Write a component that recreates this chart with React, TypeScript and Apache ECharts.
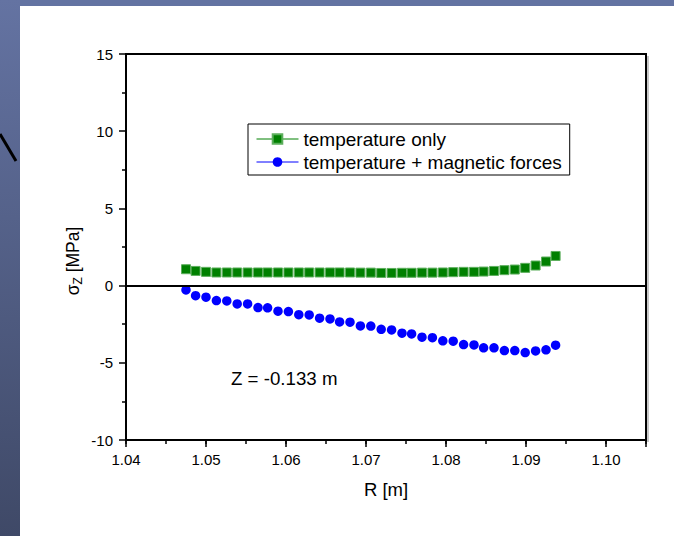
import React, { useEffect, useRef } from "react";
import * as echarts from "echarts";

const FONT = "'Liberation Sans', Arial, Helvetica, sans-serif";

const rValues = [
  1.0475, 1.0487, 1.05, 1.0513, 1.0526, 1.0539, 1.0552, 1.0565, 1.0577, 1.059,
  1.0603, 1.0616, 1.0629, 1.0642, 1.0655, 1.0667, 1.068, 1.0693, 1.0706, 1.0719,
  1.0732, 1.0745, 1.0757, 1.077, 1.0783, 1.0796, 1.0809, 1.0822, 1.0835, 1.0847,
  1.086, 1.0873, 1.0886, 1.0899, 1.0912, 1.0925, 1.0937,
];

const tempOnly = [
  1.06, 0.95, 0.89, 0.85, 0.85, 0.85, 0.85, 0.85, 0.85, 0.85, 0.85, 0.85, 0.85,
  0.85, 0.85, 0.85, 0.85, 0.84, 0.84, 0.82, 0.82, 0.83, 0.83, 0.84, 0.84, 0.85,
  0.87, 0.89, 0.89, 0.91, 0.95, 1.0, 1.04, 1.15, 1.3, 1.56, 1.92,
];

const tempMagnetic = [
  -0.28, -0.65, -0.75, -0.97, -0.99, -1.19, -1.19, -1.42, -1.44, -1.66, -1.68,
  -1.88, -1.9, -2.11, -2.16, -2.35, -2.37, -2.61, -2.62, -2.83, -2.87, -3.08,
  -3.13, -3.34, -3.37, -3.58, -3.6, -3.82, -3.84, -4.03, -4.03, -4.21, -4.21,
  -4.34, -4.23, -4.16, -3.86,
];

const seriesNames = ["temperature only", "temperature + magnetic forces"];
const annotation = "Z = -0.133 m";
const xTitle = "R [m]";

export default function App() {
  const ref = useRef<HTMLDivElement>(null);

  useEffect(() => {
    if (!ref.current) return;
    const chart = echarts.init(ref.current, null, { renderer: "svg" });

    const pairs = (ys: number[]) => rValues.map((r, i) => [r, ys[i]]);

    chart.setOption({
      animation: false,
      backgroundColor: "#ffffff",
      textStyle: { fontFamily: FONT },
      grid: {
        left: 126,
        top: 54,
        width: 520,
        height: 386,
        show: true,
        borderColor: "#000",
        borderWidth: 2,
        backgroundColor: "transparent",
      },
      legend: {
        left: 248,
        top: 124,
        orient: "vertical",
        backgroundColor: "#fff",
        borderColor: "#000",
        borderWidth: 1,
        padding: [5, 8, 3, 8],
        itemGap: 3,
        itemWidth: 42,
        itemHeight: 12,
        textStyle: { fontSize: 19, fontFamily: FONT, color: "#000", lineHeight: 20 },
        lineStyle: { opacity: 1, width: 1 },
        data: seriesNames,
      },
      xAxis: [
        {
          type: "value",
          min: 1.04,
          max: 1.105,
          interval: 0.005,
          axisLine: { show: true, onZero: false, lineStyle: { color: "#000", width: 2 } },
          axisTick: { show: true, inside: false, length: 4, lineStyle: { color: "#000", width: 1.5 } },
          axisLabel: { show: false },
          splitLine: { show: false },
        },
        {
          type: "value",
          position: "bottom",
          min: 1.04,
          max: 1.105,
          interval: 0.01,
          axisLine: { show: false, onZero: false },
          axisTick: { show: true, inside: false, length: 7, lineStyle: { color: "#000", width: 1.5 } },
          axisLabel: {
            show: true,
            margin: 12,
            fontSize: 15,
            color: "#000",
            fontFamily: FONT,
            formatter: (v: number) =>
              Math.round(v * 1000) % 10 === 0 ? v.toFixed(2) : "",
          },
          splitLine: { show: false },
          name: xTitle,
          nameLocation: "middle",
          nameGap: 40,
          nameTextStyle: { fontSize: 18.5, color: "#000", fontFamily: FONT },
        },
      ],
      yAxis: {
        type: "value",
        min: -10,
        max: 15,
        interval: 5,
        axisLine: { show: true, onZero: false, lineStyle: { color: "#000", width: 2 } },
        axisTick: { show: true, inside: false, length: 7, lineStyle: { color: "#000", width: 1.5 } },
        minorTick: { show: true, splitNumber: 2, length: 4, lineStyle: { color: "#000", width: 1.5 } },
        axisLabel: { margin: 13, fontSize: 15, color: "#000", fontFamily: FONT },
        splitLine: { show: false },
      },
      graphic: [
        {
          type: "rect",
          silent: true,
          z: -10,
          shape: { x: 0, y: 0, width: 674, height: 6 },
          style: { fill: "#6373a2" },
        },
        {
          type: "rect",
          silent: true,
          z: -10,
          shape: { x: 0, y: 0, width: 20, height: 536 },
          style: {
            fill: new echarts.graphic.LinearGradient(0, 0, 0, 1, [
              { offset: 0, color: "#6473a2" },
              { offset: 1, color: "#3f4967" },
            ]),
          },
        },
        {
          type: "line",
          silent: true,
          shape: { x1: 0, y1: 134, x2: 16, y2: 161 },
          style: { stroke: "#000", lineWidth: 3 },
        },
        {
          type: "rect",
          silent: true,
          shape: { x: 647, y: 56, width: 2, height: 386 },
          style: { fill: "#c8c8c8" },
        },
        {
          type: "text",
          x: 73,
          y: 261,
          rotation: Math.PI / 2,
          style: {
            text: "{a|σ}{b|Z}{a| [MPa]}",
            align: "center",
            verticalAlign: "middle",
            fill: "#000",
            rich: {
              a: { fontSize: 17.5, fontFamily: FONT, lineHeight: 22, fill: "#000" },
              b: { fontSize: 12, fontFamily: FONT, lineHeight: 12, verticalAlign: "bottom", fill: "#000" },
            },
          },
        },
        {
          type: "text",
          x: 231,
          y: 378,
          style: {
            text: annotation,
            fontSize: 18.7,
            fontFamily: FONT,
            fill: "#000",
            align: "left",
            verticalAlign: "middle",
          },
        },
      ],
      series: [
        {
          name: seriesNames[0],
          type: "line",
          xAxisIndex: 0,
          data: pairs(tempOnly),
          symbol: "rect",
          symbolSize: 9,
          color: "#008000",
          itemStyle: { color: "#008000", borderColor: "#5cae5c", borderWidth: 1 },
          lineStyle: { color: "#008000", opacity: 0 },
          z: 3,
        },
        {
          name: seriesNames[1],
          type: "line",
          xAxisIndex: 0,
          data: pairs(tempMagnetic),
          symbol: "circle",
          symbolSize: 9.5,
          color: "#0000ff",
          itemStyle: { color: "#0000ff" },
          lineStyle: { color: "#0000ff", opacity: 0 },
          z: 3,
          markLine: {
            silent: true,
            symbol: "none",
            label: { show: false },
            lineStyle: { color: "#000", type: "solid", width: 2 },
            data: [{ yAxis: 0 }],
          },
        },
      ],
    });

    return () => chart.dispose();
  }, []);

  return (
    <div
      ref={ref}
      style={{ position: "absolute", left: 0, top: 0, width: 674, height: 536 }}
    />
  );
}
